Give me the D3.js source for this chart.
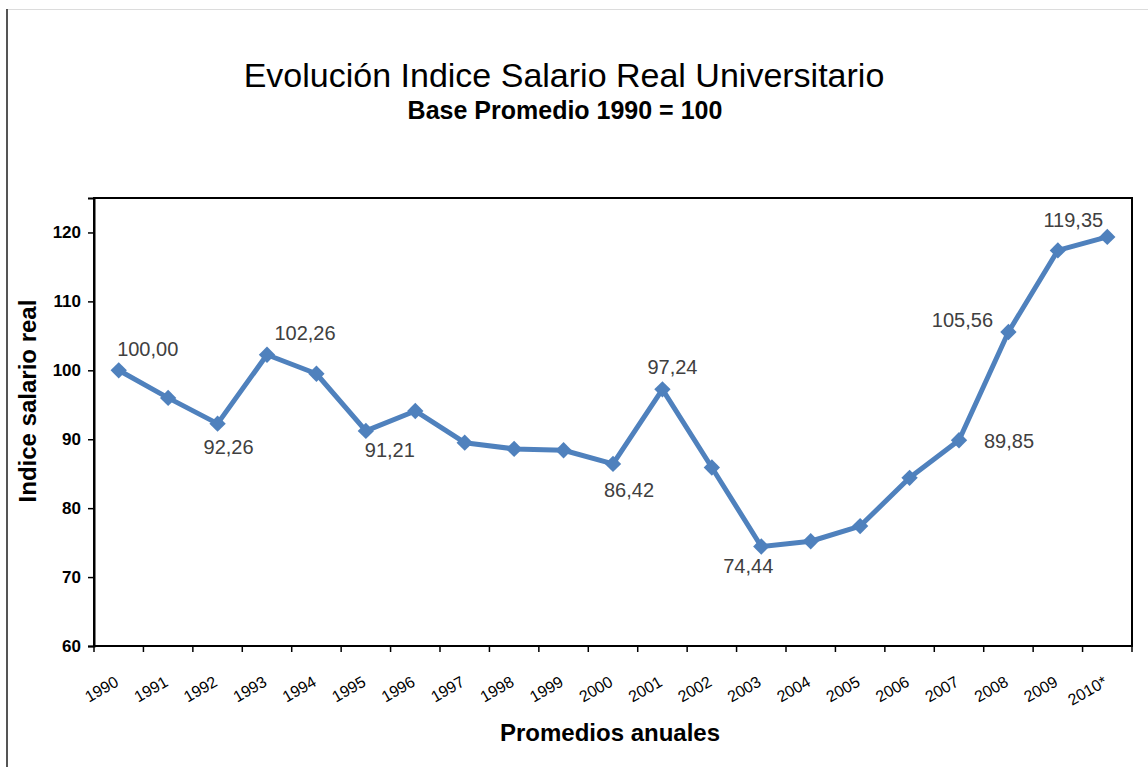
<!DOCTYPE html>
<html>
<head>
<meta charset="utf-8">
<script src="https://cdn.jsdelivr.net/npm/d3@7"></script>
<style>
  body { margin: 0; background: #fff; }
  svg text { font-family: "Liberation Sans", Arial, sans-serif; }
</style>
</head>
<body>
<script>
let years = ['1990', '1991', '1992', '1993', '1994', '1995', '1996', '1997', '1998', '1999',
    '2000', '2001', '2002', '2003', '2004', '2005', '2006', '2007', '2008', '2009', '2010*']
let values = [100.00, 96.0, 92.26, 102.26, 99.5, 91.21, 94.1, 89.5, 88.6, 88.4,
    86.42, 97.24, 85.9, 74.44, 75.2, 77.4, 84.4, 89.85, 105.56, 117.4, 119.35]
// which points carry a value label, and where it sits relative to the marker
let labelled = ['1990', '1992', '1993', '1995', '2000', '2001', '2003', '2007', '2008', '2010*']
let labelOffsets = {
    '1990': [29, -21], '1992': [11, 23], '1993': [38, -22], '1995': [24, 19],
    '2000': [16, 26], '2001': [10, -22], '2003': [-13, 20], '2007': [50, 1],
    '2008': [-46, -12], '2010*': [-34, -17]
}
let yTicks = [60, 70, 80, 90, 100, 110, 120]

let width = 1148
let height = 767
let plot = { left: 94, top: 198, right: 1132, bottom: 646 }
let blue = '#4f81bd'

let svg = d3.select('body').append('svg')
    .attr('width', width)
    .attr('height', height)

// slide frame
svg.append('line').attr('x1', 7).attr('x2', width).attr('y1', 9.5).attr('y2', 9.5)
    .attr('stroke', '#dcdcdc').attr('stroke-width', 1)
svg.append('line').attr('x1', 7).attr('x2', 7).attr('y1', 9).attr('y2', height)
    .attr('stroke', '#555').attr('stroke-width', 2)

let x = d3.scaleBand()
    .domain(years)
    .range([plot.left, plot.right])

let y = d3.scaleLinear()
    .domain([60, 125])
    .range([plot.bottom, plot.top])

// titles
svg.append('text')
    .attr('x', 564).attr('y', 87)
    .attr('text-anchor', 'middle')
    .attr('font-size', 34)
    .attr('fill', '#000')
    .text('Evolución Indice Salario Real Universitario')
svg.append('text')
    .attr('x', 565).attr('y', 119)
    .attr('text-anchor', 'middle')
    .attr('font-size', 25)
    .attr('font-weight', 'bold')
    .attr('fill', '#000')
    .text('Base Promedio 1990 = 100')

// plot frame
svg.append('rect')
    .attr('x', plot.left).attr('y', plot.top)
    .attr('width', plot.right - plot.left)
    .attr('height', plot.bottom - plot.top)
    .attr('fill', 'none')
    .attr('stroke', '#000')
    .attr('stroke-width', 2)

// y axis
let yAxis = svg.append('g')
    .attr('transform', `translate(${plot.left},0)`)
    .call(d3.axisLeft(y).tickValues(yTicks).tickSize(6).tickPadding(7))
yAxis.select('.domain').attr('stroke', '#000').attr('stroke-width', 2)
yAxis.selectAll('.tick line').attr('stroke', '#000').attr('stroke-width', 1.5)
yAxis.selectAll('.tick text')
    .attr('font-size', 17)
    .attr('font-weight', 'bold')
    .attr('fill', '#000')
    .style('font-family', '"Liberation Sans", Arial, sans-serif')

// x axis: ticks on band boundaries
let boundaries = years.map(d => x(d)).concat([plot.right])
svg.append('g').selectAll('line')
    .data(boundaries)
    .enter()
    .append('line')
    .attr('x1', d => d).attr('x2', d => d)
    .attr('y1', plot.bottom).attr('y2', plot.bottom + 6)
    .attr('stroke', '#000')
    .attr('stroke-width', 1.5)

svg.append('g').selectAll('text')
    .data(years)
    .enter()
    .append('text')
    .attr('transform', d => `translate(${x(d) + x.bandwidth() / 2 + 1},${plot.bottom + 39}) rotate(-30)`)
    .attr('text-anchor', 'end')
    .attr('font-size', 16)
    .attr('fill', '#000')
    .text(d => d)

// axis titles
svg.append('text')
    .attr('transform', `translate(36,401) rotate(-90)`)
    .attr('text-anchor', 'middle')
    .attr('font-size', 24)
    .attr('font-weight', 'bold')
    .attr('fill', '#000')
    .text('Indice salario real')
svg.append('text')
    .attr('x', 610).attr('y', 741)
    .attr('text-anchor', 'middle')
    .attr('font-size', 24)
    .attr('font-weight', 'bold')
    .attr('fill', '#000')
    .text('Promedios anuales')

// series
let cx = (d, i) => x(years[i]) + x.bandwidth() / 2
let line = d3.line()
    .x(cx)
    .y(d => y(d))

svg.append('path')
    .datum(values)
    .attr('d', line)
    .attr('fill', 'none')
    .attr('stroke', blue)
    .attr('stroke-width', 5)
    .attr('stroke-linejoin', 'round')

svg.append('g').selectAll('path')
    .data(values)
    .enter()
    .append('path')
    .attr('d', d3.symbol(d3.symbolDiamond2, 170))
    .attr('transform', (d, i) => `translate(${cx(d, i)},${y(d)})`)
    .attr('fill', blue)

// value labels
let fmt = v => v.toFixed(2).replace('.', ',')
svg.append('g').selectAll('text')
    .data(labelled)
    .enter()
    .append('text')
    .attr('x', d => x(d) + x.bandwidth() / 2 + labelOffsets[d][0])
    .attr('y', d => y(values[years.indexOf(d)]) + labelOffsets[d][1])
    .attr('dy', '0.35em')
    .attr('text-anchor', 'middle')
    .attr('font-size', 20)
    .attr('fill', '#404040')
    .text(d => fmt(values[years.indexOf(d)]))
</script>
</body>
</html>
